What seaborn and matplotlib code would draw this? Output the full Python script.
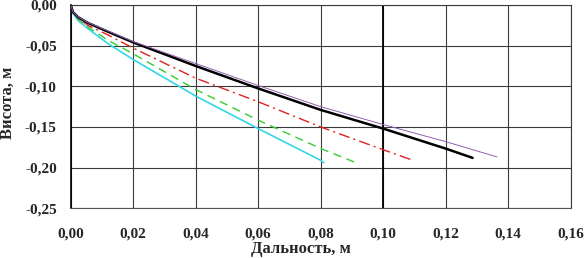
import matplotlib
matplotlib.use("Agg")
import matplotlib.pyplot as plt
import seaborn as sns
import pandas as pd
from matplotlib.ticker import FuncFormatter

# Data (range in m, height in m)
x_purple = [0, 0.0007, 0.0023, 0.0055, 0.012, 0.02, 0.04, 0.06, 0.08, 0.10, 0.12, 0.1364]
y_purple = [0, -0.0085, -0.0145, -0.0215, -0.032, -0.045, -0.072, -0.099, -0.125, -0.147, -0.168, -0.1868]

x_black = [0, 0.0007, 0.0023, 0.0055, 0.012, 0.02, 0.04, 0.06, 0.08, 0.10, 0.12, 0.1286]
y_black = [0, -0.0086, -0.0148, -0.022, -0.033, -0.046, -0.075, -0.1026, -0.129, -0.152, -0.1766, -0.188]

x_red = [0, 0.0007, 0.0023, 0.0055, 0.012, 0.02, 0.04, 0.06, 0.08, 0.10, 0.1088]
y_red = [0, -0.0092, -0.016, -0.025, -0.037, -0.053, -0.090, -0.119, -0.150, -0.178, -0.190]

x_green = [0, 0.0007, 0.0023, 0.0055, 0.012, 0.02, 0.04, 0.06, 0.08, 0.0907]
y_green = [0, -0.0095, -0.017, -0.027, -0.0435, -0.060, -0.104, -0.1416, -0.1765, -0.193]

x_cyan = [0, 0.0007, 0.0023, 0.0055, 0.012, 0.02, 0.04, 0.06, 0.08, 0.081]
y_cyan = [0, -0.010, -0.019, -0.029, -0.0477, -0.067, -0.112, -0.152, -0.191, -0.194]

x_ticks = [0.00, 0.02, 0.04, 0.06, 0.08, 0.10, 0.12, 0.14, 0.16]
y_ticks = [0.00, -0.05, -0.10, -0.15, -0.20, -0.25]

sns.set_theme(style="white")
plt.rcParams['font.family'] = ['Liberation Serif', 'DejaVu Serif']

fig = plt.figure(figsize=(5.85, 2.58), dpi=100)
ax = fig.add_axes([0.1209, 0.1926, 0.8547, 0.788])

series = [
    ("cyan", x_cyan, y_cyan, "#33d6e6", "-", 1.2),
    ("green", x_green, y_green, "#33cc33", (0, (6, 4)), 1.0),
    ("red", x_red, y_red, "#e02020", (0, (8, 3, 1.5, 3)), 1.0),
    ("black", x_black, y_black, "#000000", "-", 1.8),
    ("purple", x_purple, y_purple, "#9060b0", "-", 0.7),
]
for name, xs, ys, c, ls, lw in series:
    df = pd.DataFrame({"x": xs, "y": ys})
    sns.lineplot(data=df, x="x", y="y", ax=ax, color=c, linestyle=ls,
                 linewidth=lw, sort=False, estimator=None, zorder=3)

ax.set_xlim(0, 0.16)
ax.set_ylim(-0.25, 0.0)
ax.set_xticks(x_ticks)
ax.set_yticks(y_ticks)
fmt = FuncFormatter(lambda v, p: f"{v:.2f}".replace(".", ",").replace("-0,00", "0,00"))
ax.xaxis.set_major_formatter(fmt)
ax.yaxis.set_major_formatter(fmt)

ax.grid(True, color="#3a3a3a", linewidth=0.8)
ax.axvline(0.10, color="black", linewidth=1.3, zorder=2)
for s in ["top", "right"]:
    ax.spines[s].set_color("#3a3a3a")
    ax.spines[s].set_linewidth(0.8)
ax.spines["bottom"].set_color("#555555")
ax.spines["bottom"].set_linewidth(0.8)
ax.spines["left"].set_color("black")
ax.spines["left"].set_linewidth(1.2)

ax.tick_params(axis="both", length=0, labelsize=11)
ax.tick_params(axis="x", pad=14)
ax.tick_params(axis="y", pad=10)
for lab in ax.get_xticklabels() + ax.get_yticklabels():
    lab.set_fontweight("bold")

ax.set_xlabel("Дальность, м", fontsize=12, fontweight="bold")
ax.set_ylabel("Висота, м", fontsize=12, fontweight="bold")
ax.xaxis.set_label_coords(0.46, -0.16)
ax.yaxis.set_label_coords(-0.11, 0.52)

fig.savefig("out.png", dpi=100)
